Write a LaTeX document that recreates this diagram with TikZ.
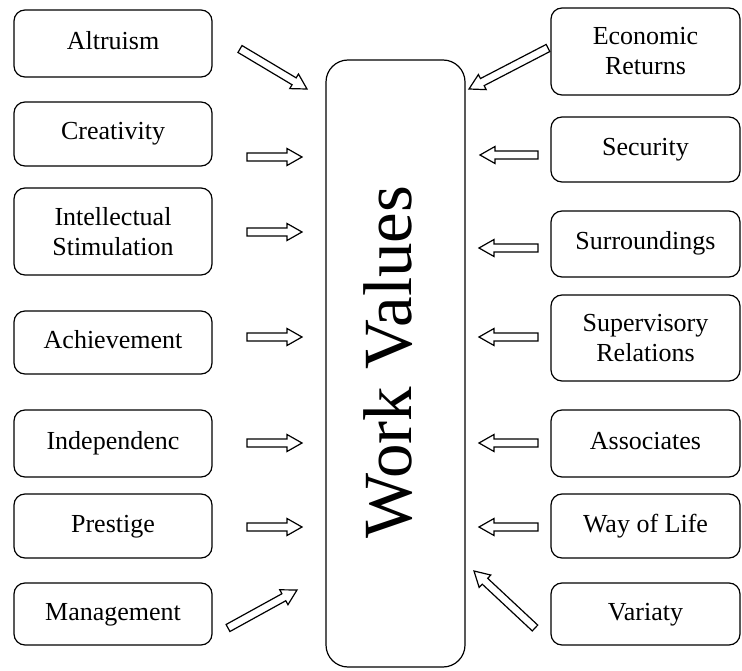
\documentclass[tikz,border=0pt]{standalone}
\usepackage{fontspec}
\setmainfont{Liberation Serif}
\usetikzlibrary{calc}
\tikzset{
  valbox/.style={draw, line width=1.2pt, rounded corners=11pt, inner sep=0pt, align=center,
    font=\fontsize{26}{30}\selectfont},
  lbox/.style={valbox, minimum width=198pt},
  rbox/.style={valbox, minimum width=189pt},
  oneline/.style={text height=18pt, text depth=6pt},
  twoline/.style={yshift=2pt},
  barrow/.style={draw, line width=1.2pt, fill=white, line join=miter},
}
\newcommand{\bkarrow}[2]{%
  \path ($(#2)!15pt!(#1)$) coordinate (bN);
  \draw[barrow] ($(#1)!4pt!90:(#2)$) -- ($(bN)!4pt!90:(#2)$) -- ($(bN)!8.5pt!90:(#2)$)
    -- (#2) -- ($(bN)!8.5pt!-90:(#2)$) -- ($(bN)!4pt!-90:(#2)$) -- ($(#1)!4pt!-90:(#2)$) -- cycle;
}
\begin{document}
\begin{tikzpicture}[x=1pt, y=-1pt]
\useasboundingbox (0,0) rectangle (742,671);

% central box
\node[draw, line width=1.2pt, rounded corners=22pt, minimum width=139pt, minimum height=607pt, inner sep=0pt]
  (wv) at (395.5,363.5) {};
\node[rotate=90, inner sep=0pt, font=\fontsize{69}{74}\selectfont] (wvtext) at (388,362) {Work Values};

% left boxes
\node[lbox, oneline, minimum height=67pt] (alt) at (113,43.5) {Altruism};
\node[lbox, oneline, minimum height=64pt] (cre) at (113,134) {Creativity};
\node[lbox, twoline, minimum height=87pt] (int) at (113,233.5) {Intellectual\\Stimulation};
\node[lbox, oneline, minimum height=63pt] (ach) at (113,342.5) {Achievement};
\node[lbox, oneline, minimum height=67pt] (ind) at (113,443.5) {Independenc};
\node[lbox, oneline, minimum height=64pt] (pre) at (113,526) {Prestige};
\node[lbox, oneline, minimum height=62pt] (man) at (113,614) {Management};

% right boxes
\node[rbox, twoline, minimum height=87pt] (eco) at (645.5,53.5) {Economic\\Returns};
\node[rbox, oneline, minimum height=65pt] (sec) at (645.5,149.5) {Security};
\node[rbox, oneline, minimum height=66pt] (sur) at (645.5,244) {Surroundings};
\node[rbox, twoline, minimum height=86pt] (sup) at (645.5,340) {Supervisory\\Relations};
\node[rbox, oneline, minimum height=67pt] (ass) at (645.5,443.5) {Associates};
\node[rbox, oneline, minimum height=64pt] (way) at (645.5,526) {Way of Life};
\node[rbox, oneline, minimum height=62pt] (var) at (645.5,614) {Variaty};

% arrow end points
\coordinate (altS) at (240,49);  \coordinate (altE) at (307,89);
\coordinate (creS) at (247,157); \coordinate (creE) at (302,157);
\coordinate (intS) at (247,232); \coordinate (intE) at (302,232);
\coordinate (achS) at (247,337); \coordinate (achE) at (302,337);
\coordinate (indS) at (247,443); \coordinate (indE) at (302,443);
\coordinate (preS) at (247,527); \coordinate (preE) at (302,527);
\coordinate (manS) at (228,628); \coordinate (manE) at (297,590);

\coordinate (ecoS) at (548,48);  \coordinate (ecoE) at (469,89);
\coordinate (secS) at (538,155); \coordinate (secE) at (480,155);
\coordinate (surS) at (538,248); \coordinate (surE) at (479,248);
\coordinate (supS) at (538,337); \coordinate (supE) at (479,337);
\coordinate (assS) at (538,443); \coordinate (assE) at (479,443);
\coordinate (wayS) at (538,527); \coordinate (wayE) at (479,527);
\coordinate (varS) at (535,628); \coordinate (varE) at (474,571);

\bkarrow{altS}{altE}
\bkarrow{creS}{creE}
\bkarrow{intS}{intE}
\bkarrow{achS}{achE}
\bkarrow{indS}{indE}
\bkarrow{preS}{preE}
\bkarrow{manS}{manE}
\bkarrow{ecoS}{ecoE}
\bkarrow{secS}{secE}
\bkarrow{surS}{surE}
\bkarrow{supS}{supE}
\bkarrow{assS}{assE}
\bkarrow{wayS}{wayE}
\bkarrow{varS}{varE}
\end{tikzpicture}
\end{document}
